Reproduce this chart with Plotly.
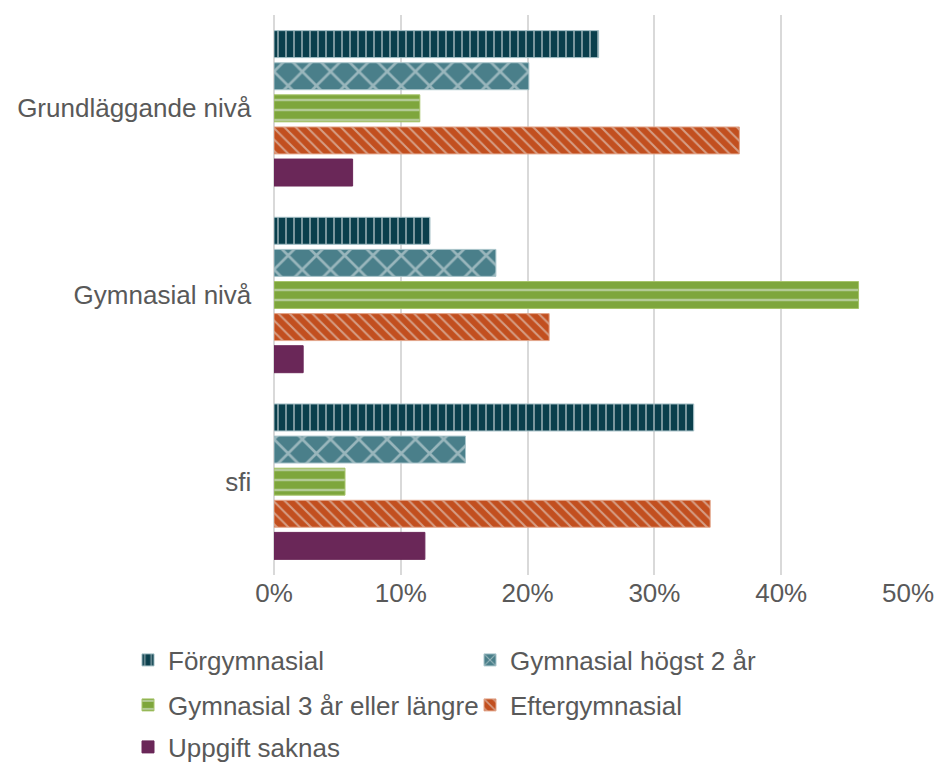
import plotly.graph_objects as go

categories = ["Grundläggande nivå", "Gymnasial nivå", "sfi"]
series_names = ["Förgymnasial", "Gymnasial högst 2 år", "Gymnasial 3 år eller längre",
                "Eftergymnasial", "Uppgift saknas"]
forgymnasial = [25.6, 12.3, 33.1]
gym_hogst2 = [20.1, 17.5, 15.1]
gym_3ar = [11.5, 46.1, 5.6]
eftergymnasial = [36.7, 21.7, 34.4]
uppgift_saknas = [6.2, 2.3, 11.9]
tick_vals = [0, 10, 20, 30, 40, 50]
tick_text = ["0%", "10%", "20%", "30%", "40%", "50%"]

values = [forgymnasial, gym_hogst2, gym_3ar, eftergymnasial, uppgift_saknas]
colors = ["#0a3f4c", "#4a7f8a", "#7ea63c", "#c24f1f", "#6a2758"]
line_colors = ["#9fbcc2", "#a9c4ca", "#a7c46a", "#e2a58a", "#6a2758"]
shapes = ["|", "x", "-", "\\", ""]
sizes = [8, 20, 10, 8, 8]
legend_ids = ["legend", "legend2", "legend3", "legend4", "legend5"]

W, H = 937, 763
# legend text anchor positions (px from top-left of figure)
legend_pos = [(168, 660), (510, 660), (168, 705), (510, 705), (168, 747)]

fig = go.Figure()
for name, vals, col, lc, sh, sz, lg in zip(series_names, values, colors, line_colors,
                                          shapes, sizes, legend_ids):
    fig.add_trace(go.Bar(
        y=categories, x=vals, name=name, orientation="h",
        marker=dict(color=col, line=dict(color=lc, width=1),
                    pattern=dict(shape=sh, fgcolor="#e8eeee", size=sz, solidity=0.25,
                                 fillmode="overlay")),
        legend=lg, showlegend=True,
    ))

font = dict(family="Liberation Sans, Arial, sans-serif", size=26, color="#595959")

legend_layout = {}
for lg, (px, py) in zip(legend_ids, legend_pos):
    legend_layout[lg] = dict(orientation="h", xref="container", yref="container",
                             x=(px - 40) / W, y=1 - py / H,
                             xanchor="left", yanchor="middle", font=font,
                             bgcolor="rgba(0,0,0,0)", itemclick=False)

fig.update_layout(
    width=W, height=H,
    showlegend=True,
    margin=dict(l=274, r=29, t=15, b=188, autoexpand=False),
    paper_bgcolor="white", plot_bgcolor="white",
    barmode="group", bargap=0.14, bargroupgap=0.16,
    font=font,
    xaxis=dict(range=[0, 50], tickvals=tick_vals, ticktext=tick_text,
               showgrid=True, gridcolor="#d9d9d9", gridwidth=1.5,
               zeroline=True, zerolinecolor="#d9d9d9", zerolinewidth=1.5,
               showline=False, ticks="", tickfont=font, automargin=False),
    yaxis=dict(autorange="reversed", showgrid=False, ticks="", showline=False,
               tickfont=font, ticksuffix="   ", automargin=False),
    **legend_layout,
)

fig.write_html("out.html",
               config={"displayModeBar": False},
               post_script="document.body.style.margin='0px';"
                           "document.body.style.overflow='hidden';")
